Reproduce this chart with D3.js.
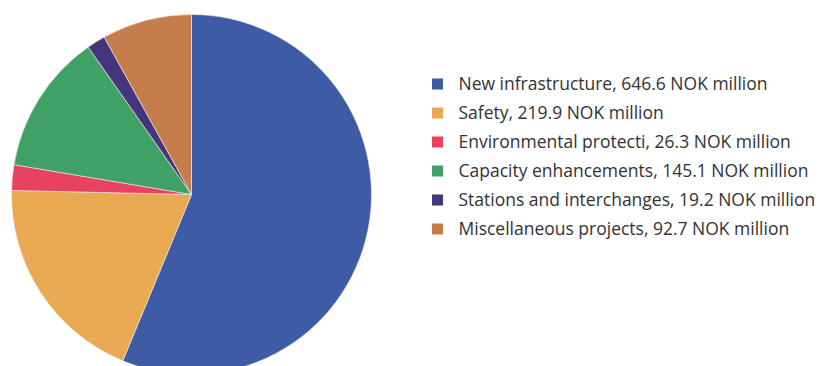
<!DOCTYPE html>
<html>
<head>
<meta charset="utf-8">
<script src="https://cdn.jsdelivr.net/npm/d3@7"></script>
<style>
  html, body { margin: 0; padding: 0; background: #fff; }
  svg { display: block; }
</style>
</head>
<body>
<svg id="chart" width="824" height="366"></svg>
<script>
const categories = ["New infrastructure", "Safety", "Environmental protecti", "Capacity enhancements", "Stations and interchanges", "Miscellaneous projects"];
const values = [646.6, 219.9, 26.3, 145.1, 19.2, 92.7];
const unitLabel = "NOK million";
const colors = ["#3e5ba5", "#e9a952", "#e8425f", "#3fa264", "#45357c", "#c57e4b"];

const data = categories.map((c, i) => ({ name: c, value: values[i], color: colors[i] }));

const svg = d3.select("#chart");
const cx = 191.5, cy = 194.5, radius = 180;

const pie = d3.pie().value(d => d.value).sort(null);
const arc = d3.arc().innerRadius(0).outerRadius(radius);

const g = svg.append("g").attr("transform", `translate(${cx},${cy})`);
g.selectAll("path")
  .data(pie(data))
  .join("path")
  .attr("d", arc)
  .attr("fill", d => d.data.color)
  .attr("stroke", "#f3eee6")
  .attr("stroke-width", 0.6);

const legendX = 432, legendY = 84, rowH = 29, sq = 11;
const legend = svg.append("g");
const rows = legend.selectAll("g")
  .data(data)
  .join("g")
  .attr("transform", (d, i) => `translate(${legendX},${legendY + i * rowH})`);
rows.append("rect")
  .attr("x", 0).attr("y", -sq / 2)
  .attr("width", sq).attr("height", sq)
  .attr("fill", d => d.color);
const fmt = d3.format(".1f");
const texts = rows.append("text")
  .attr("x", 26.5)
  .attr("y", 0)
  .attr("dy", "0.35em")
  .attr("font-family", "'Open Sans', sans-serif")
  .attr("font-size", 16)
  .attr("fill", "#333")
  .text(d => `${d.name}, ${fmt(d.value)} ${unitLabel}`);

// fit the first line to the reference's legend width
const w0 = texts.nodes()[0].getComputedTextLength();
const fs = 16 * 309 / w0;
texts.attr("font-size", fs.toFixed(2));
</script>
</body>
</html>
